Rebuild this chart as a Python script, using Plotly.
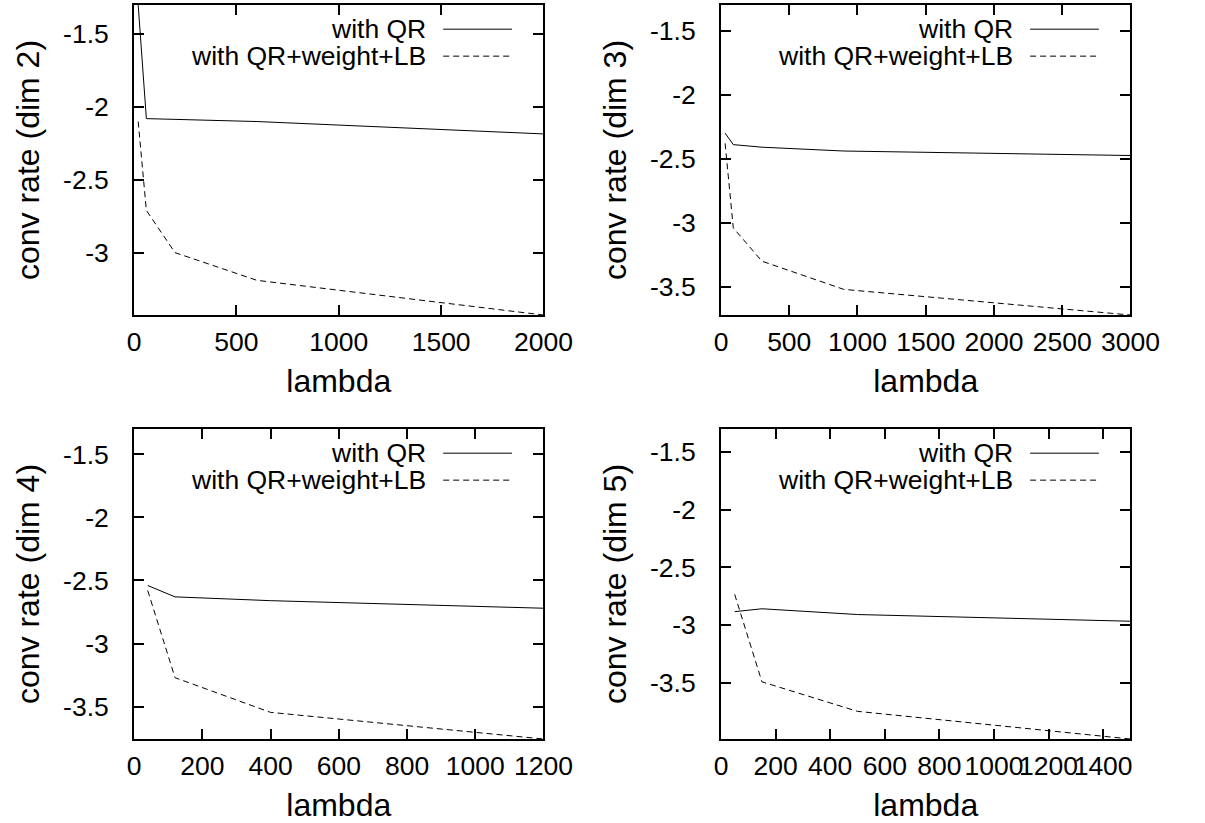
import plotly.graph_objects as go

# ---- data ----
lambda_d2 = [20, 60, 200, 600, 2000]
qr_d2 = [-1.30, -2.08, -2.085, -2.10, -2.185]
qrwlb_d2 = [-2.10, -2.71, -3.00, -3.19, -3.428]

lambda_d3 = [30, 90, 300, 900, 3000]
qr_d3 = [-2.30, -2.39, -2.41, -2.44, -2.475]
qrwlb_d3 = [-2.38, -3.04, -3.30, -3.52, -3.72]

lambda_d4 = [40, 120, 400, 1200]
qr_d4 = [-2.54, -2.63, -2.66, -2.72]
qrwlb_d4 = [-2.58, -3.27, -3.545, -3.756]

lambda_d5 = [50, 150, 500, 1500]
qr_d5 = [-2.885, -2.86, -2.91, -2.968]
qrwlb_d5 = [-2.735, -3.494, -3.75, -3.99]

series_names = ["with QR", "with QR+weight+LB"]
dim_labels = ["conv rate (dim 2)", "conv rate (dim 3)", "conv rate (dim 4)", "conv rate (dim 5)"]
x_title = "lambda"

x_max = [2000, 3000, 1200, 1500]
x_tick_step = [500, 500, 200, 200]
y_bottom = [-3.428, -3.72, -3.756, -3.99]
y_top = -1.3
y_tickvals = [-3.5, -3.0, -2.5, -2.0, -1.5]
y_ticktext = ["-3.5", "-3", "-2.5", "-2", "-1.5"]

panels = [
    (lambda_d2, qr_d2, qrwlb_d2),
    (lambda_d3, qr_d3, qrwlb_d3),
    (lambda_d4, qr_d4, qrwlb_d4),
    (lambda_d5, qr_d5, qrwlb_d5),
]

W, H = 1205, 823
FONT = "Liberation Sans, Arial, sans-serif"
FS = 26.5

# plot-area pixel boxes (left, right, top, bottom)
boxes = [
    (131, 553, 5, 315),
    (736, 1158, 5, 315),
    (131, 553, 429, 739),
    (736, 1158, 429, 739),
]

fig = go.Figure()
layout = dict(
    width=W, height=H,
    margin=dict(l=0, r=0, t=0, b=0),
    paper_bgcolor="white", plot_bgcolor="white",
    showlegend=False,
    font=dict(family=FONT, size=FS, color="black"),
)
annotations = []
shapes = []

for i, (lam, qr, wlb) in enumerate(panels):
    n = "" if i == 0 else str(i + 1)
    xa, ya = "x" + n, "y" + n
    fig.add_trace(go.Scatter(x=lam, y=qr, mode="lines", name=series_names[0],
                             line=dict(color="black", width=1), xaxis=xa, yaxis=ya,
                             cliponaxis=True))
    fig.add_trace(go.Scatter(x=lam, y=wlb, mode="lines", name=series_names[1],
                             line=dict(color="black", width=1, dash="6px,4px"),
                             xaxis=xa, yaxis=ya, cliponaxis=True))
    l, r, t, b = boxes[i]
    xticks = list(range(0, x_max[i] + 1, x_tick_step[i]))
    layout["xaxis" + n] = dict(
        domain=[l / W, r / W], anchor=ya, range=[0, x_max[i]],
        tickvals=xticks, ticktext=[str(v) for v in xticks], tickangle=0,
        ticks="inside", ticklen=10, tickwidth=1.5, tickcolor="black",
        showline=True, linecolor="black", linewidth=2, mirror="ticks",
        showgrid=False, zeroline=False, ticklabelstandoff=2,
        title=dict(text=x_title, standoff=14),
    )
    layout["yaxis" + n] = dict(
        domain=[1 - b / H, 1 - t / H], anchor=xa, range=[y_bottom[i], y_top],
        tickvals=y_tickvals, ticktext=y_ticktext,
        ticks="inside", ticklen=10, tickwidth=1.5, tickcolor="black",
        showline=True, linecolor="black", linewidth=2, mirror="ticks",
        showgrid=False, zeroline=False, ticklabelstandoff=18,
        title=dict(text=dim_labels[i], standoff=14),
    )
    # key (gnuplot style: text left of sample)
    for k, (yy, dash) in enumerate([(0.922, "solid"), (0.835, "6px,4px")]):
        annotations.append(dict(
            text=series_names[k], xref=xa + " domain", yref=ya + " domain",
            x=0.718, y=yy, xanchor="right", yanchor="middle", showarrow=False,
            font=dict(family=FONT, size=FS, color="black"),
        ))
        shapes.append(dict(
            type="line", xref=xa + " domain", yref=ya + " domain",
            x0=0.755, x1=0.923, y0=yy, y1=yy,
            line=dict(color="black", width=1, dash=dash),
        ))

layout["annotations"] = annotations
layout["shapes"] = shapes
fig.update_layout(**layout)
fig.write_html(
    "out.html",
    config={"displayModeBar": False},
    post_script="document.body.style.margin='0';document.body.style.overflow='hidden';",
)
